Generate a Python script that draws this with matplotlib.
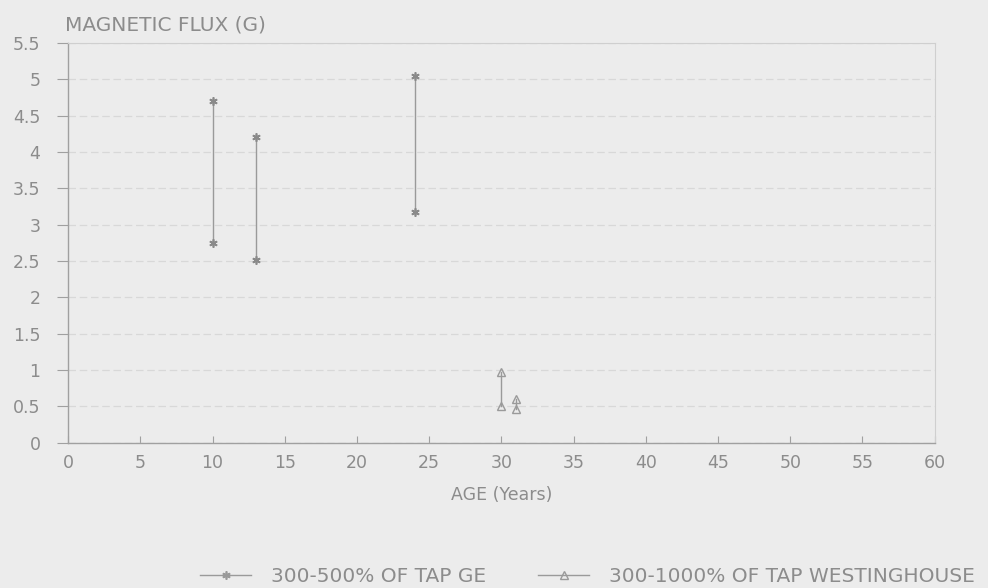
import matplotlib.pyplot as plt
from matplotlib.lines import Line2D

# hi/lo magnetic flux readings by transformer age
ge_age = [10, 13, 24]
ge_high = [4.7, 4.2, 5.05]
ge_low = [2.75, 2.52, 3.18]

west_age = [30, 31]
west_high = [0.97, 0.6]
west_low = [0.5, 0.46]

x_ticks = list(range(0, 61, 5))
y_ticks = [0, 0.5, 1, 1.5, 2, 2.5, 3, 3.5, 4, 4.5, 5, 5.5]
y_tick_labels = ['0', '0.5', '1', '1.5', '2', '2.5', '3', '3.5', '4', '4.5', '5', '5.5']

bg = '#ececec'
ink = '#8c8c8c'

fig = plt.figure(figsize=(9.88, 5.88), dpi=100)
fig.patch.set_facecolor(bg)
ax = fig.add_axes([0.069, 0.247, 0.877, 0.68])
ax.set_facecolor(bg)

for x, lo, hi in zip(ge_age, ge_low, ge_high):
    ax.plot([x, x], [lo, hi], color='#9a9a9a', lw=1.0, marker=(6, 2, 0),
            ms=6, mew=1.2, mec='#8a8a8a')

for x, lo, hi in zip(west_age, west_low, west_high):
    ax.plot([x, x], [lo, hi], color='#9a9a9a', lw=1.0, marker='^',
            ms=6, mfc='none', mew=1.0, mec='#9a9a9a')

ax.set_xlim(0, 60)
ax.set_ylim(0, 5.5)
ax.set_xticks(x_ticks)
ax.set_yticks(y_ticks)
ax.set_yticklabels(y_tick_labels)
ax.yaxis.grid(True, color='#d8d8d8', lw=0.9, ls=(0, (6, 3)))
ax.set_axisbelow(True)

ax.tick_params(axis='x', direction='in', length=5, color='#a0a0a0',
               labelcolor=ink, labelsize=12.5, pad=8)
ax.tick_params(axis='y', direction='out', length=8, color='#a0a0a0',
               labelcolor=ink, labelsize=12.5, pad=12)
for side in ['left', 'bottom']:
    ax.spines[side].set_color('#a0a0a0')
    ax.spines[side].set_linewidth(1.0)
for side in ['top', 'right']:
    ax.spines[side].set_color('#cfcfcf')
    ax.spines[side].set_linewidth(0.8)

ax.set_xlabel('AGE (Years)', color=ink, fontsize=12.5, labelpad=10)
fig.text(0.066, 0.958, 'MAGNETIC FLUX (G)', color=ink, fontsize=14.5,
         ha='left', va='center')

handles = [
    Line2D([], [], color='#9a9a9a', lw=1.0, marker=(6, 2, 0), ms=6, mew=1.2),
    Line2D([], [], color='#9a9a9a', lw=1.0, marker='^', ms=6, mfc='none', mew=1.0),
]
fig.legend(handles, ['300-500% OF TAP GE', '300-1000% OF TAP WESTINGHOUSE'],
           loc='center right', bbox_to_anchor=(1.005, 0.02), ncol=2, frameon=False,
           fontsize=14.5, labelcolor=ink, handlelength=2.5, handletextpad=1.0,
           columnspacing=2.6)

fig.savefig('out.png', facecolor=fig.get_facecolor(), dpi=100)
